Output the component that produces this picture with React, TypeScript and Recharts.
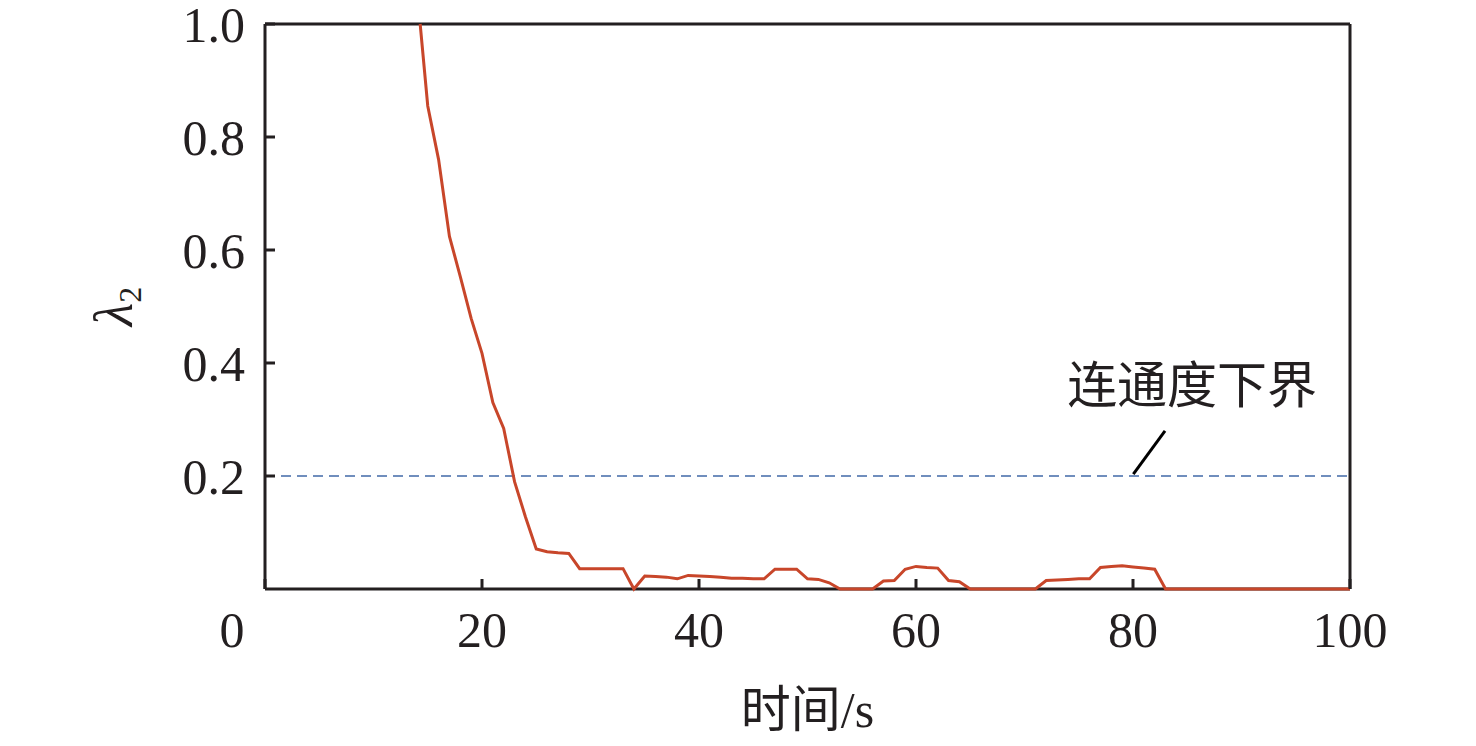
import { Label, Line, LineChart, ReferenceDot, ReferenceLine, XAxis, YAxis } from "recharts";

// time (s) and the algebraic connectivity λ2;
// the first point is where the curve leaves the top of the frame
const TIME = [
  14.3, 15, 16, 17, 18, 19, 20, 21, 22, 23, 24, 25, 26, 27, 28, 29, 30, 31, 32, 33, 34, 35, 36, 37,
  38, 39, 40, 41, 42, 43, 44, 45, 46, 47, 48, 49, 50, 51, 52, 53, 54, 55, 56, 57, 58, 59, 60, 61,
  62, 63, 64, 65, 66, 67, 68, 69, 70, 71, 72, 73, 74, 75, 76, 77, 78, 79, 80, 81, 82, 83, 84, 85,
  86, 87, 88, 89, 90, 91, 92, 93, 94, 95, 96, 97, 98, 99, 100,
];
const LAMBDA2 = [
  1.0, 0.855, 0.76, 0.624, 0.553, 0.479, 0.417, 0.33, 0.284, 0.19, 0.128, 0.071, 0.066, 0.064,
  0.063, 0.036, 0.036, 0.036, 0.036, 0.036, 0.0, 0.023, 0.022, 0.021, 0.018, 0.024, 0.023, 0.022,
  0.021, 0.019, 0.019, 0.018, 0.018, 0.035, 0.035, 0.035, 0.018, 0.017, 0.011, 0.0, 0.0, 0.0, 0.0,
  0.014, 0.015, 0.035, 0.04, 0.038, 0.037, 0.015, 0.013, 0.0, 0.0, 0.0, 0.0, 0.0, 0.0, 0.0, 0.015,
  0.016, 0.017, 0.018, 0.018, 0.038, 0.04, 0.041, 0.039, 0.037, 0.035, 0.0, 0.0, 0.0, 0.0, 0.0,
  0.0, 0.0, 0.0, 0.0, 0.0, 0.0, 0.0, 0.0, 0.0, 0.0, 0.0, 0.0, 0.0,
];

const X_TICKS = [0, 20, 40, 60, 80, 100];
const Y_TICKS = [0.2, 0.4, 0.6, 0.8, 1.0];

const LOWER_BOUND = 0.2;
const LOWER_BOUND_TEXT = "连通度下界";
// leader line from the annotation text down to the dashed line
const LEADER = [
  { x: 82.95, y: 0.28 },
  { x: 80.03, y: 0.2035 },
];
const TEXT_AT = { x: 85.45, y: 0.361 };

const INK = "#231f20";
const FONT = "'Liberation Serif', 'Times New Roman', 'Noto Sans CJK SC', serif";

// tickSize is 0, so x/y here sit right on the axis line; the short tick
// marks point into the plot like in the original
function XTick(props: any) {
  const { x, y, payload } = props;
  const dx = payload.value === 0 ? -33 : 0; // origin "0" sits left of the corner
  return (
    <g>
      <line x1={x} y1={y} x2={x} y2={y - 10} stroke={INK} strokeWidth={3} />
      <text x={x + dx} y={y + 58} textAnchor="middle" fontFamily={FONT} fontSize={50} fill={INK}>
        {payload.value}
      </text>
    </g>
  );
}

function YTick(props: any) {
  const { x, y, payload } = props;
  return (
    <g>
      <line x1={x} y1={y} x2={x + 10} y2={y} stroke={INK} strokeWidth={3} />
      <text x={x - 20} y={y + 18} textAnchor="end" fontFamily={FONT} fontSize={50} fill={INK}>
        {payload.value.toFixed(1)}
      </text>
    </g>
  );
}

function YLabel(props: any) {
  const vb = props.viewBox;
  const cx = vb.x - 53;
  const cy = vb.y + vb.height / 2;
  return (
    <text
      x={cx}
      y={cy}
      transform={`rotate(-90, ${cx}, ${cy})`}
      textAnchor="middle"
      fontFamily={FONT}
      fill={INK}
    >
      <tspan fontSize={54} fontStyle="italic">
        λ
      </tspan>
      <tspan fontSize={32} dy={9}>
        2
      </tspan>
    </text>
  );
}

export default function App() {
  const data = TIME.map((t, i) => ({ t, v: LAMBDA2[i] }));
  const axisLine = { stroke: INK, strokeWidth: 3 };

  return (
    <div style={{ position: "absolute", left: 0, top: 0, background: "#fff" }}>
      <LineChart
        width={1476}
        height={746}
        data={data}
        margin={{ top: 24, right: 126, left: 185, bottom: 97 }}
      >
        <XAxis
          dataKey="t"
          type="number"
          domain={[0, 100]}
          ticks={X_TICKS}
          axisLine={axisLine}
          tickLine={false}
          tickSize={0}
          tickMargin={0}
          tick={<XTick />}
          height={60}
          interval={0}
        >
          <Label
            value="时间/s"
            position="bottom"
            offset={42}
            fontFamily={FONT}
            fontSize={50}
            fill={INK}
          />
        </XAxis>
        <YAxis
          type="number"
          domain={[0, 1]}
          ticks={Y_TICKS}
          axisLine={axisLine}
          tickLine={false}
          tickSize={0}
          tickMargin={0}
          tick={<YTick />}
          width={80}
          interval={0}
        >
          <Label content={<YLabel />} />
        </YAxis>
        {/* top and right sides of the frame */}
        <ReferenceLine y={1} stroke={INK} strokeWidth={3} ifOverflow="visible" />
        <ReferenceLine x={100} stroke={INK} strokeWidth={3} ifOverflow="visible" />
        <ReferenceLine
          y={LOWER_BOUND}
          stroke="#4169a8"
          strokeWidth={1.5}
          strokeDasharray="10 6"
        />
        <ReferenceLine segment={LEADER} stroke="#000" strokeWidth={3} ifOverflow="visible" />
        <ReferenceDot x={TEXT_AT.x} y={TEXT_AT.y} r={0} stroke="none" fill="none">
          <Label
            value={LOWER_BOUND_TEXT}
            position="center"
            fontFamily={FONT}
            fontSize={50}
            fill={INK}
          />
        </ReferenceDot>
        <Line
          type="linear"
          dataKey="v"
          stroke="#c8462a"
          strokeWidth={3}
          dot={false}
          activeDot={false}
          isAnimationActive={false}
          {...({ zIndex: 600 } as any)}
        />
      </LineChart>
    </div>
  );
}
